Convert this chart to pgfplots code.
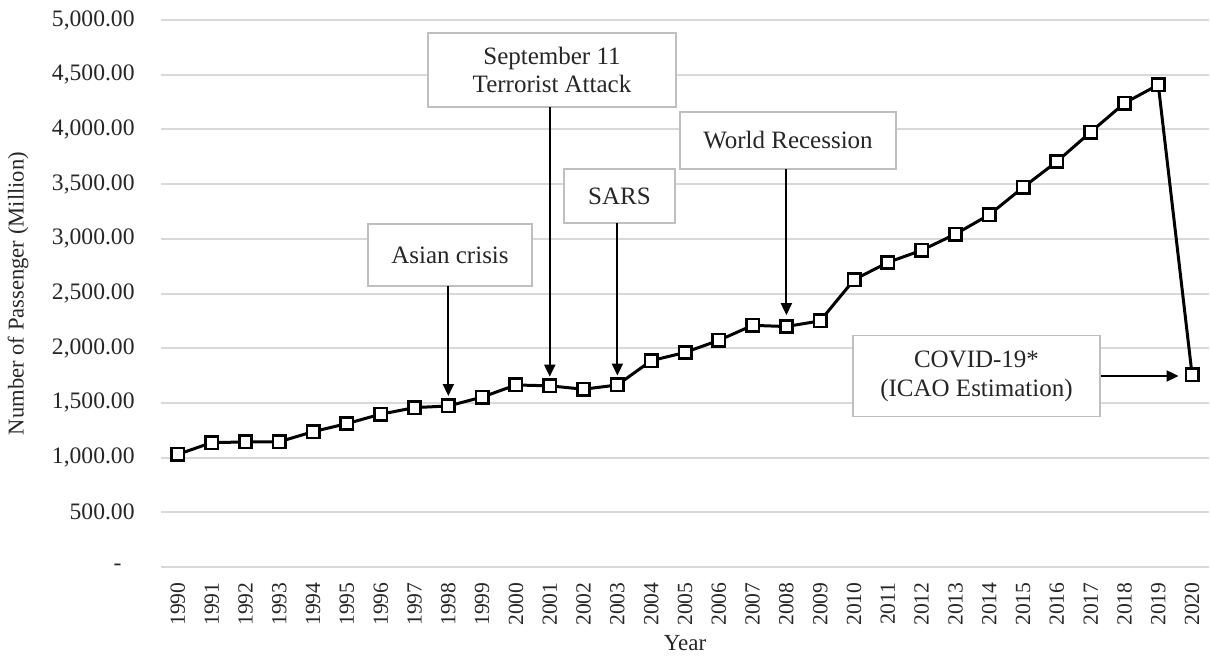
\documentclass[border=0pt]{standalone}
\usepackage{fontspec}
\setmainfont{Liberation Serif}
\usepackage{pgfplots}
\usepackage{pgfplotstable}
\pgfplotsset{compat=1.18}
\usetikzlibrary{arrows.meta}

\pgfplotstableread{
x y
0 1030
1 1137
2 1143
3 1145
4 1237
5 1311
6 1397
7 1457
8 1472
9 1553
10 1664
11 1656
12 1625
13 1664
14 1886
15 1961
16 2072
17 2209
18 2198
19 2250
20 2626
21 2784
22 2895
23 3043
24 3220
25 3470
26 3706
27 3976
28 4240
29 4408
30 1757
}\passengers

\begin{document}
\begin{tikzpicture}[
  box/.style={draw=black!25, fill=white, line width=0.7pt, inner sep=0pt,
    align=center, font=\fontsize{12.5}{14.2}\selectfont, text=black!85},
  arr/.style={-{Triangle[length=6pt,width=5.5pt]}, line width=1pt, black}
]
\begin{axis}[
  scale only axis,
  width=524pt, height=273.5pt,
  xmin=-0.5, xmax=30.5, ymin=0, ymax=5000,
  clip=false,
  axis line style={draw=none},
  major tick length=0pt,
  ymajorgrids,
  grid style={draw=black!15, line width=1pt},
  xtick={0,...,30},
  xticklabels={1990,1991,1992,1993,1994,1995,1996,1997,1998,1999,2000,2001,2002,2003,2004,2005,2006,2007,2008,2009,2010,2011,2012,2013,2014,2015,2016,2017,2018,2019,2020},
  xticklabel style={rotate=90, anchor=east, inner sep=0pt, xshift=-7.5pt,
    font=\fontsize{10.8}{12}\selectfont, text=black!85},
  ytick={0,500,1000,1500,2000,2500,3000,3500,4000,4500,5000},
  yticklabels={{-\hspace*{6.5pt}},{500.00},{1,000.00},{1,500.00},{2,000.00},{2,500.00},{3,000.00},{3,500.00},{4,000.00},{4,500.00},{5,000.00}},
  yticklabel style={anchor=east, inner sep=0pt, xshift=-13pt,
    font=\fontsize{11.8}{13}\selectfont, text=black!85},
  xlabel={Year},
  ylabel={Number of Passenger (Million)},
  xlabel style={at={([yshift=-38pt]rel axis cs:0.5,0)}, anchor=center,
    font=\fontsize{11.5}{13}\selectfont, text=black!85},
  ylabel style={at={([xshift=-71.5pt]rel axis cs:0,0.5)}, anchor=center,
    font=\fontsize{11.3}{13}\selectfont, text=black!85},
]
\addplot[black, line width=1.5pt, mark=square*, mark size=3.1pt,
  mark options={fill=white, draw=black, line width=1.3pt, solid}]
  table[x=x, y=y] {\passengers};

% annotations
\node[box, minimum width=82pt, minimum height=31pt] at (axis cs:8.049,2852) {Asian crisis};
\draw[arr] (axis cs:8,2569) -- (axis cs:8,1563);

\node[box, minimum width=124pt, minimum height=37pt] at (axis cs:11.066,4543) {September 11\\Terrorist Attack};
\draw[arr] (axis cs:11,4205) -- (axis cs:11,1740);

\node[box, minimum width=55.5pt, minimum height=27pt] at (axis cs:13.063,3391) {SARS};
\draw[arr] (axis cs:13,3145) -- (axis cs:13,1750);

\node[box, minimum width=108pt, minimum height=28.5pt] at (axis cs:18.047,3899) {World Recession};
\draw[arr] (axis cs:18,3638) -- (axis cs:18,2302);

\node[box, minimum width=123.5pt, minimum height=40.5pt, font=\fontsize{12.5}{14.6}\selectfont] (covid) at (axis cs:23.623,1746) {COVID-19*\\(ICAO Estimation)};
\draw[arr] (covid.east) -- (axis cs:29.6,1746);

% bounding box matching reference proportions
\path (rel axis cs:0,0) ++(-80.5pt,-43pt) rectangle ++(605pt,326.5pt);
\end{axis}
\end{tikzpicture}
\end{document}
